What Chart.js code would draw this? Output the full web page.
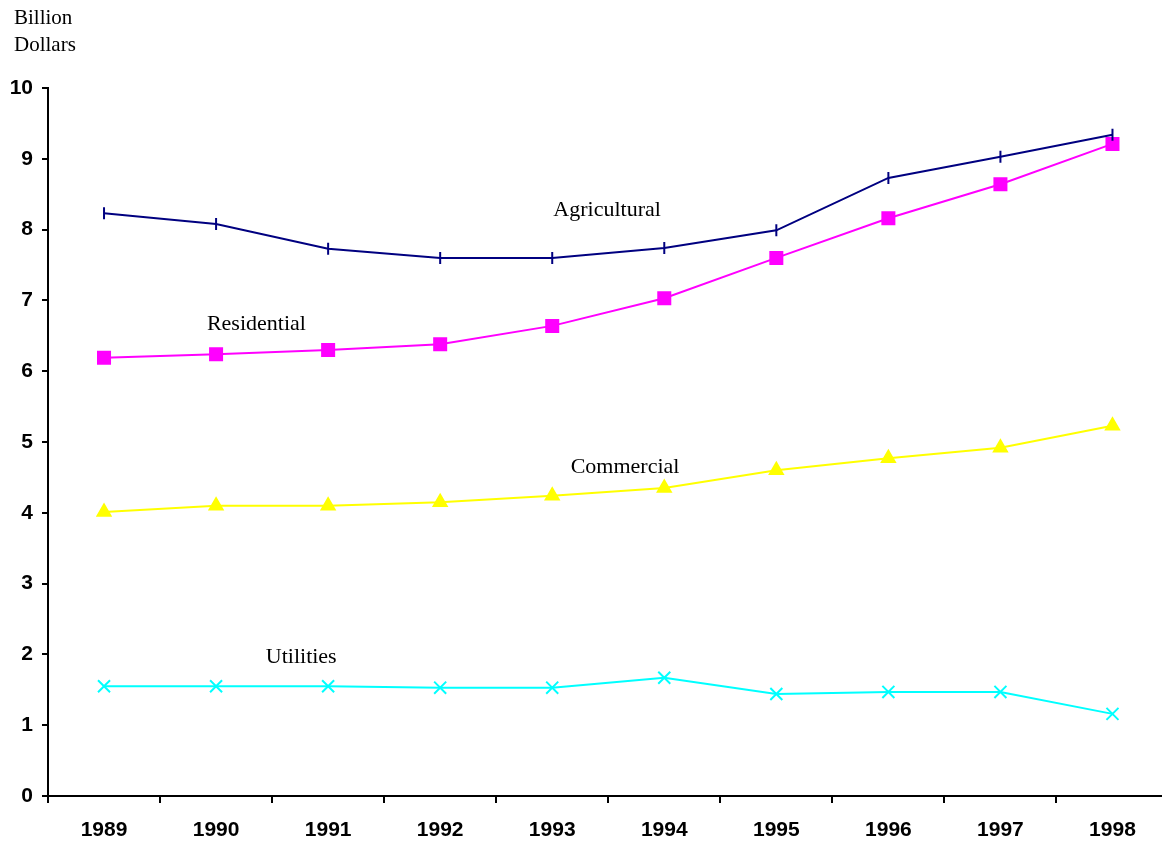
<!DOCTYPE html>
<html><head><meta charset="utf-8">
<script src="https://cdn.jsdelivr.net/npm/chart.js@4"></script>
<style>html,body{margin:0;padding:0;overflow:hidden;background:#fff}canvas{display:block}</style>
</head><body><canvas id="c" width="1179" height="844" style="width:1179px;height:844px"></canvas>
<script>
const years = ['1989','1990','1991','1992','1993','1994','1995','1996','1997','1998'];
const agricultural = [8.23, 8.08, 7.73, 7.60, 7.60, 7.74, 7.99, 8.73, 9.03, 9.34];
const residential = [6.19, 6.24, 6.30, 6.38, 6.64, 7.03, 7.60, 8.16, 8.64, 9.21];
const commercial = [4.01, 4.10, 4.10, 4.15, 4.24, 4.35, 4.60, 4.77, 4.92, 5.23];
const utilities = [1.55, 1.55, 1.55, 1.53, 1.53, 1.67, 1.44, 1.47, 1.47, 1.16];
const yTicks = [0,1,2,3,4,5,6,7,8,9,10];
const seriesLabels = [
  {text:'Agricultural', x:4.49, y:8.27},
  {text:'Residential', x:1.36, y:6.67},
  {text:'Commercial', x:4.65, y:4.65},
  {text:'Utilities', x:1.76, y:1.96}
];
const axisTitle = ['Billion', 'Dollars'];

const labelPlugin = {
  id:'labels',
  afterDraw(chart){
    const ctx = chart.ctx, xs = chart.scales.x, ys = chart.scales.y;
    ctx.save();
    ctx.fillStyle = '#000';
    ctx.font = '22px "Liberation Serif", "Times New Roman", serif';
    ctx.textAlign = 'center'; ctx.textBaseline = 'middle';
    seriesLabels.forEach(l => {
      const i = Math.floor(l.x);
      const x0 = xs.getPixelForValue(i);
      const x1 = xs.getPixelForValue(i+1);
      const px = x0 + (x1-x0)*(l.x-i);
      ctx.fillText(l.text, px, ys.getPixelForValue(l.y));
    });
    ctx.font = '21px "Liberation Serif", "Times New Roman", serif';
    ctx.textAlign = 'left';
    ctx.fillText(axisTitle[0], 14, 18);
    ctx.fillText(axisTitle[1], 14, 45);
    ctx.restore();
  }
};

const mk = (label, data, color, style, radius, rot) => ({
  label, data, borderColor: color, backgroundColor: color, borderWidth: 2,
  pointStyle: style, pointRadius: radius, pointRotation: rot || 0,
  pointBorderColor: color, pointBackgroundColor: color, pointBorderWidth: 2,
  tension: 0, fill: false
});

new Chart(document.getElementById('c'), {
  type: 'line',
  data: {
    labels: years,
    datasets: [
      mk('Agricultural', agricultural, '#000080', 'line', 6, 90),
      mk('Residential', residential, '#FF00FF', 'rect', 8.5),
      mk('Commercial', commercial, '#FFFF00', 'triangle', 7.5),
      mk('Utilities', utilities, '#00FFFF', 'crossRot', 8.5)
    ]
  },
  options: {
    responsive: false, maintainAspectRatio: false, animation: false, devicePixelRatio: 1,
    layout: { padding: { top: 88, right: 0, left: 0, bottom: 0 } },
    plugins: { legend: { display: false }, tooltip: { enabled: false } },
    scales: {
      x: {
        offset: true,
        grid: { display: true, drawOnChartArea: false, offset: true, color: '#000', tickLength: 7, lineWidth: 2 },
        border: { color: '#000', width: 2 },
        ticks: { color: '#000', font: { family: '"Liberation Sans", Arial, sans-serif', size: 21, weight: 'bold' }, padding: 15, maxRotation: 0 },
        afterFit(s){ s.height = 48; }
      },
      y: {
        min: 0, max: 10,
        afterBuildTicks(s){ s.ticks = yTicks.map(v => ({value: v})); },
        grid: { display: true, drawOnChartArea: false, color: '#000', tickLength: 6, lineWidth: 2 },
        border: { color: '#000', width: 2 },
        ticks: { color: '#000', font: { family: '"Liberation Sans", Arial, sans-serif', size: 21, weight: 'bold' }, padding: 9 },
        afterFit(s){ s.width = 48; }
      }
    }
  },
  plugins: [labelPlugin]
});
</script></body></html>
